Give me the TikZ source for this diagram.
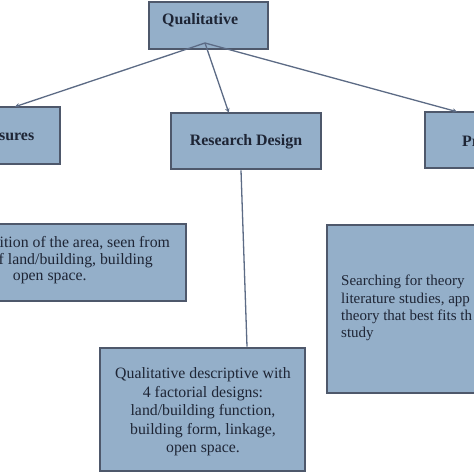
\documentclass[tikz,border=0pt]{standalone}
\usepackage{fontspec}
\setmainfont{Liberation Serif}
\usetikzlibrary{arrows.meta,calc}
\definecolor{boxfill}{HTML}{94AFC9}
\definecolor{boxline}{HTML}{4E586B}
\definecolor{linkcol}{HTML}{5C6B85}
\definecolor{txt}{HTML}{1E2535}
\begin{document}
\begin{tikzpicture}[x=1pt,y=-1pt,
  box/.style={draw=boxline, line width=2.6pt, fill=boxfill, inner sep=0pt},
  boldtxt/.style={text=txt, inner sep=0pt, font=\fontsize{15.9}{18}\selectfont\bfseries},
  regtxt/.style={text=txt, inner sep=0pt},
  linetxt/.style={regtxt, anchor=base west, font=\fontsize{15.8}{16.5}\selectfont},
  link/.style={draw=linkcol, line width=1.3pt},
  arrowlink/.style={link, -{Stealth[length=4.5pt,width=4.5pt]}}]
\useasboundingbox (0,0) rectangle (474,474);
\clip (0,0) rectangle (474,474);
\fill[white] (0,0) rectangle (474,474);
% boxes
\node[box, minimum width=119pt, minimum height=47pt] (q) at (208.5,25.5) {};
\node[box, minimum width=90pt, minimum height=57pt] (l) at (15,135.5) {};
\node[box, minimum width=150pt, minimum height=56pt] (rd) at (246,141) {};
\node[box, minimum width=64pt, minimum height=56pt] (p) at (457,140) {};
\node[box, minimum width=216pt, minimum height=77pt] (ll) at (78,262.5) {};
\node[box, minimum width=205pt, minimum height=123pt] (c) at (202.5,409.5) {};
\node[box, minimum width=163pt, minimum height=168pt] (r) at (408.5,309) {};
% texts
\node[boldtxt, anchor=west] (qt) at (162,20) {Qualitative};
\node[boldtxt, anchor=west] (lt) at (-1,137) {sures};
\node[boldtxt] (rdt) at (246,142) {Research Design};
\node[boldtxt, anchor=west] (pt) at (462,141) {Pr};
\node[linetxt] (ll1) at (-0.5,247) {ition of the area, seen from};
\node[linetxt] (ll2) at (-1.5,264) {f land/building, building};
\node[linetxt] (ll3) at (12.7,280) {open space.};
\node[regtxt, align=center, font=\fontsize{15.8}{18.5}\selectfont] (ct) at (203,412)
  {Qualitative descriptive with\\4 factorial designs:\\land/building function,\\building form, linkage,\\open space.};
\node[regtxt, anchor=west, align=left, font=\fontsize{15}{17.3}\selectfont] (rt) at (341,308)
  {Searching for theory\\literature studies, app\\theory that best fits th\\study};
% connectors
\coordinate (apex) at (205,43);
\draw[arrowlink] (apex) -- ([yshift=-1pt]l.north);
\draw[arrowlink] (apex) -- ([yshift=-1pt]$(rd.north west)!0.387!(rd.north east)$);
\draw[arrowlink] (apex) -- ([yshift=-1pt]p.north);
\draw[link] ([xshift=-5pt]rd.south) -- ([xshift=44.5pt]c.north);
\end{tikzpicture}
\end{document}
